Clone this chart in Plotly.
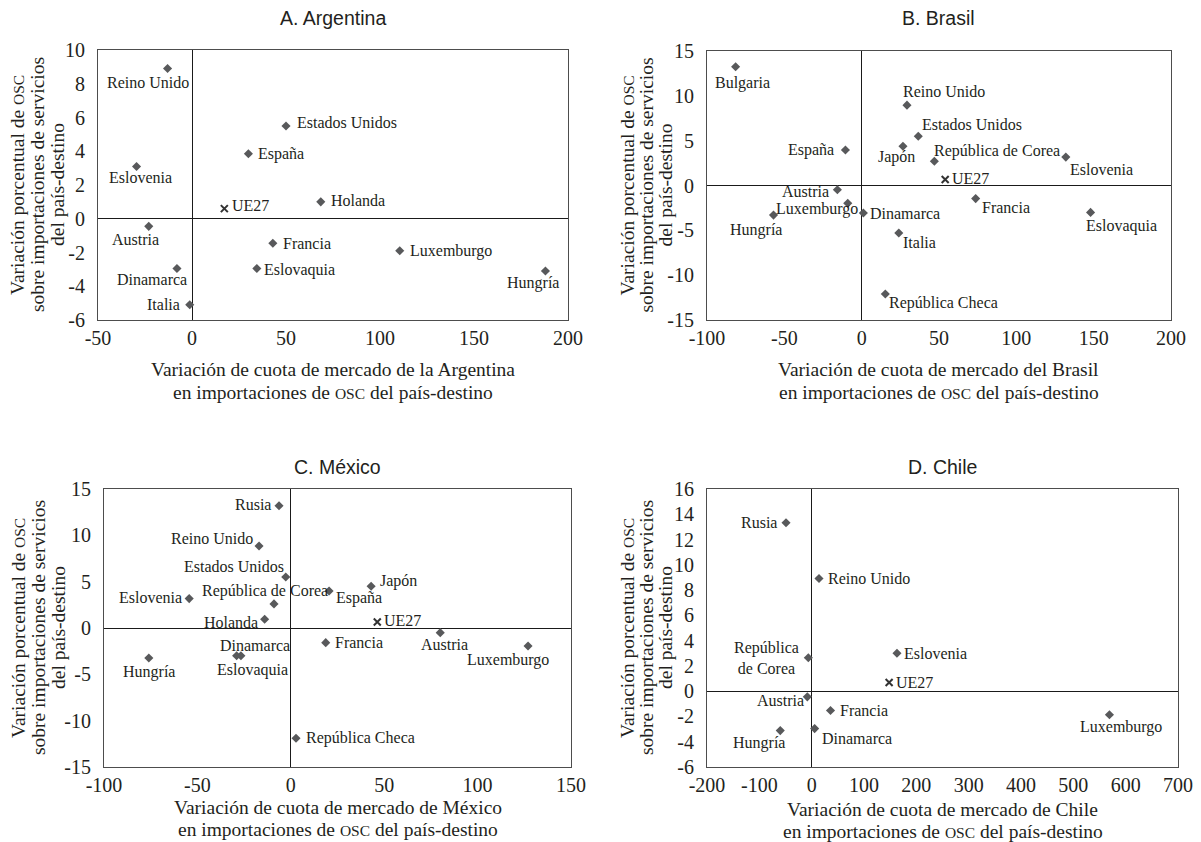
import plotly.graph_objects as go

W, H = 1201, 842

# ---- A. Argentina ----
names_a = ["Reino Unido", "Eslovenia", "Austria", "Dinamarca", "Italia", "Estados Unidos",
           "España", "Holanda", "Francia", "Eslovaquia", "Luxemburgo", "Hungría"]
x_a = [-13, -29.5, -23, -8, -1.2, 50, 30, 68.5, 43, 34.5, 110.5, 188]
y_a = [8.9, 3.1, -0.45, -2.95, -5.1, 5.5, 3.85, 1.0, -1.45, -2.95, -1.9, -3.1]
ue_a = (17.2, 0.6)

# ---- B. Brasil ----
names_b = ["Bulgaria", "Reino Unido", "Estados Unidos", "Japón", "República de Corea", "España",
           "Austria", "Luxemburgo", "Dinamarca", "Hungría", "Italia", "República Checa",
           "Francia", "Eslovenia", "Eslovaquia"]
x_b = [-81.5, 29.3, 36.6, 26.7, 47, -10.5, -15.7, -9, 1.1, -57, 24, 15.3, 73.7, 132, 148]
y_b = [13.25, 8.96, 5.5, 4.37, 2.7, 3.96, -0.48, -1.98, -3.06, -3.3, -5.3, -12.1, -1.46, 3.17, -3.0]
ue_b = (54, 0.67)

# ---- C. México ----
names_c = ["Rusia", "Reino Unido", "Estados Unidos", "República de Corea", "España", "Japón",
           "Eslovenia", "Holanda", "Dinamarca", "Eslovaquia", "Hungría", "Francia",
           "República Checa", "Austria", "Luxemburgo"]
x_c = [-6.3, -17, -2.7, -9, 20.5, 43, -54.4, -14, -29, -26.7, -76, 18.7, 2.8, 80, 127]
y_c = [13.2, 8.85, 5.5, 2.6, 4.0, 4.5, 3.17, 0.94, -3.0, -3.0, -3.24, -1.58, -11.9, -0.5, -1.94]
ue_c = (46.3, 0.65)

# ---- D. Chile ----
names_d = ["Rusia", "Reino Unido", "República<br>de Corea", "Eslovenia", "Austria", "Francia",
           "Dinamarca", "Hungría", "Luxemburgo"]
x_d = [-49, 14, -6.4, 163, -8.3, 36, 5.7, -60, 569]
y_d = [13.33, 8.92, 2.65, 3.0, -0.45, -1.53, -2.96, -3.12, -1.87]
ue_d = (148, 0.69)

# label centre offsets from each marker, in pixels (right, down)
off_a = [(-20, 14), (4, 11), (-13, 13), (-25, 11), (-26, 0), (61, -3),
         (33, 0), (37, -1), (34, 0), (43, 1), (51, 0), (-12, 12)]
off_b = [(7, 16), (37, -14), (54, -12), (-6, 11), (63, -10), (-34, 0),
         (-32, 2), (-31, 6), (42, 1), (-18, 15), (21, 9), (58, 9),
         (30, 9), (36, 12), (31, 14)]
off_c = [(-26, -1), (-47, -7), (-52, -11), (-9, -13), (30, 7), (27, -5),
         (-39, -1), (-34, 3), (18, -10), (12, 14), (0, 14), (33, 0),
         (64, 0), (4, 12), (-20, 14)]
off_d = [(-27, 0), (50, 0), (-42, 0), (39, 0), (-27, 4), (33, 0),
         (42, 10), (-21, 12), (12, 12)]
off_ue = [(26, -3), (25, -1), (25, -1), (25, 0)]

# axis ticks
xt_a = [-50, 0, 50, 100, 150, 200]
yt_a = [-6, -4, -2, 0, 2, 4, 6, 8, 10]
xt_b = [-100, -50, 0, 50, 100, 150, 200]
yt_b = [-15, -10, -5, 0, 5, 10, 15]
xt_c = [-100, -50, 0, 50, 100, 150]
yt_c = [-15, -10, -5, 0, 5, 10, 15]
xt_d = [-200, -100, 0, 100, 200, 300, 400, 500, 600, 700]
yt_d = [-6, -4, -2, 0, 2, 4, 6, 8, 10, 12, 14, 16]

titles = ["A. Argentina", "B. Brasil", "C. México", "D. Chile"]
xtitle_1 = ["Variación de cuota de mercado de la Argentina",
            "Variación de cuota de mercado del Brasil",
            "Variación de cuota de mercado de México",
            "Variación de cuota de mercado de Chile"]
OSC = "<span style='font-size:15.5px'>OSC</span>"
xtitle_2 = "en importaciones de " + OSC + " del país-destino"
ytitle = ["Variación porcentual de " + OSC,
          "sobre importaciones de servicios",
          "del país-destino"]

SERIF = "Liberation Serif, Times New Roman, serif"
SANS = "Liberation Sans, Arial, sans-serif"
MARK = "#58595b"
TXT = "#231f20"

# plot-area boxes in pixels: left, top, right, bottom
boxes = [(98, 50, 568, 320), (707, 51, 1171, 320), (104, 489, 571, 767), (707, 489, 1178, 767)]
ranges = [((-50, 200), (-6, 10)), ((-100, 200), (-15, 15)),
          ((-100, 150), (-15, 15)), ((-200, 700), (-6, 16))]
ticks = [(xt_a, yt_a), (xt_b, yt_b), (xt_c, yt_c), (xt_d, yt_d)]
series = [(names_a, x_a, y_a, off_a, ue_a), (names_b, x_b, y_b, off_b, ue_b),
          (names_c, x_c, y_c, off_c, ue_c), (names_d, x_d, y_d, off_d, ue_d)]
ytitle_x = [(18, 38, 58), (627, 646, 665), (18, 38, 58), (627, 646, 665)]
xtitle_y = [(369, 392), (369, 392), (807, 829), (809, 831)]
title_y = [18, 18, 467, 467]


def px(x):
    return x / W


def py(y):
    return 1 - y / H


fig = go.Figure()
layout = dict(width=W, height=H, margin=dict(l=0, r=0, t=0, b=0, autoexpand=False),
              paper_bgcolor="white", plot_bgcolor="white", showlegend=False,
              annotations=[])

for i in range(4):
    k = "" if i == 0 else str(i + 1)
    names, xs, ys, offs, ue = series[i]
    l, t, r, b = boxes[i]
    (x0, x1), (y0, y1) = ranges[i]
    xt, yt = ticks[i]
    fig.add_trace(go.Scatter(
        x=xs, y=ys, mode="markers",
        marker=dict(symbol="diamond", size=7, color=MARK),
        xaxis="x" + k, yaxis="y" + k, cliponaxis=False))
    fig.add_trace(go.Scatter(
        x=[ue[0]], y=[ue[1]], mode="markers",
        marker=dict(symbol="x-thin", size=7, color="#333333", line=dict(width=2, color="#333333")),
        xaxis="x" + k, yaxis="y" + k, cliponaxis=False))
    # point labels
    for name, xv, yv, (dx, dy) in zip(names + ["UE27"], xs + [ue[0]], ys + [ue[1]],
                                      offs + [off_ue[i]]):
        layout["annotations"].append(dict(
            text=name, x=xv, y=yv, xref="x" + k, yref="y" + k, showarrow=False,
            xanchor="center", yanchor="middle", xshift=dx, yshift=-dy,
            font=dict(family=SERIF, size=16, color=TXT)))
    axcommon = dict(showgrid=False, zeroline=True, zerolinecolor="#1a1a1a", zerolinewidth=1,
                    showline=True, linecolor="#4d4d4d", linewidth=1, mirror=True, ticks="",
                    automargin=False, fixedrange=True,
                    tickfont=dict(family=SERIF, size=20, color=TXT))
    layout["xaxis" + k] = dict(axcommon, domain=[px(l), px(r)], range=[x0, x1],
                               tickvals=xt, ticktext=[str(v) for v in xt],
                               ticklabelstandoff=0, anchor="y" + k)
    layout["yaxis" + k] = dict(axcommon, domain=[py(b), py(t)], range=[y0, y1],
                               tickvals=yt, ticktext=[str(v) for v in yt],
                               ticklabelstandoff=8, anchor="x" + k)
    cx = (l + r) / 2
    cy = (t + b) / 2
    layout["annotations"].append(dict(
        text=titles[i], x=px(cx), y=py(title_y[i]), xref="paper", yref="paper",
        showarrow=False, xanchor="center", yanchor="middle",
        font=dict(family=SANS, size=19.5, color=TXT)))
    for j, line in enumerate([xtitle_1[i], xtitle_2]):
        layout["annotations"].append(dict(
            text=line, x=px(cx), y=py(xtitle_y[i][j]), xref="paper", yref="paper",
            showarrow=False, xanchor="center", yanchor="middle",
            font=dict(family=SERIF, size=19.5, color=TXT)))
    for j, line in enumerate(ytitle):
        layout["annotations"].append(dict(
            text=line, x=px(ytitle_x[i][j]), y=py(cy), xref="paper", yref="paper",
            showarrow=False, xanchor="center", yanchor="middle", textangle=-90,
            font=dict(family=SERIF, size=19.5, color=TXT)))

fig.update_layout(**layout)
fig.write_html("out.html")
